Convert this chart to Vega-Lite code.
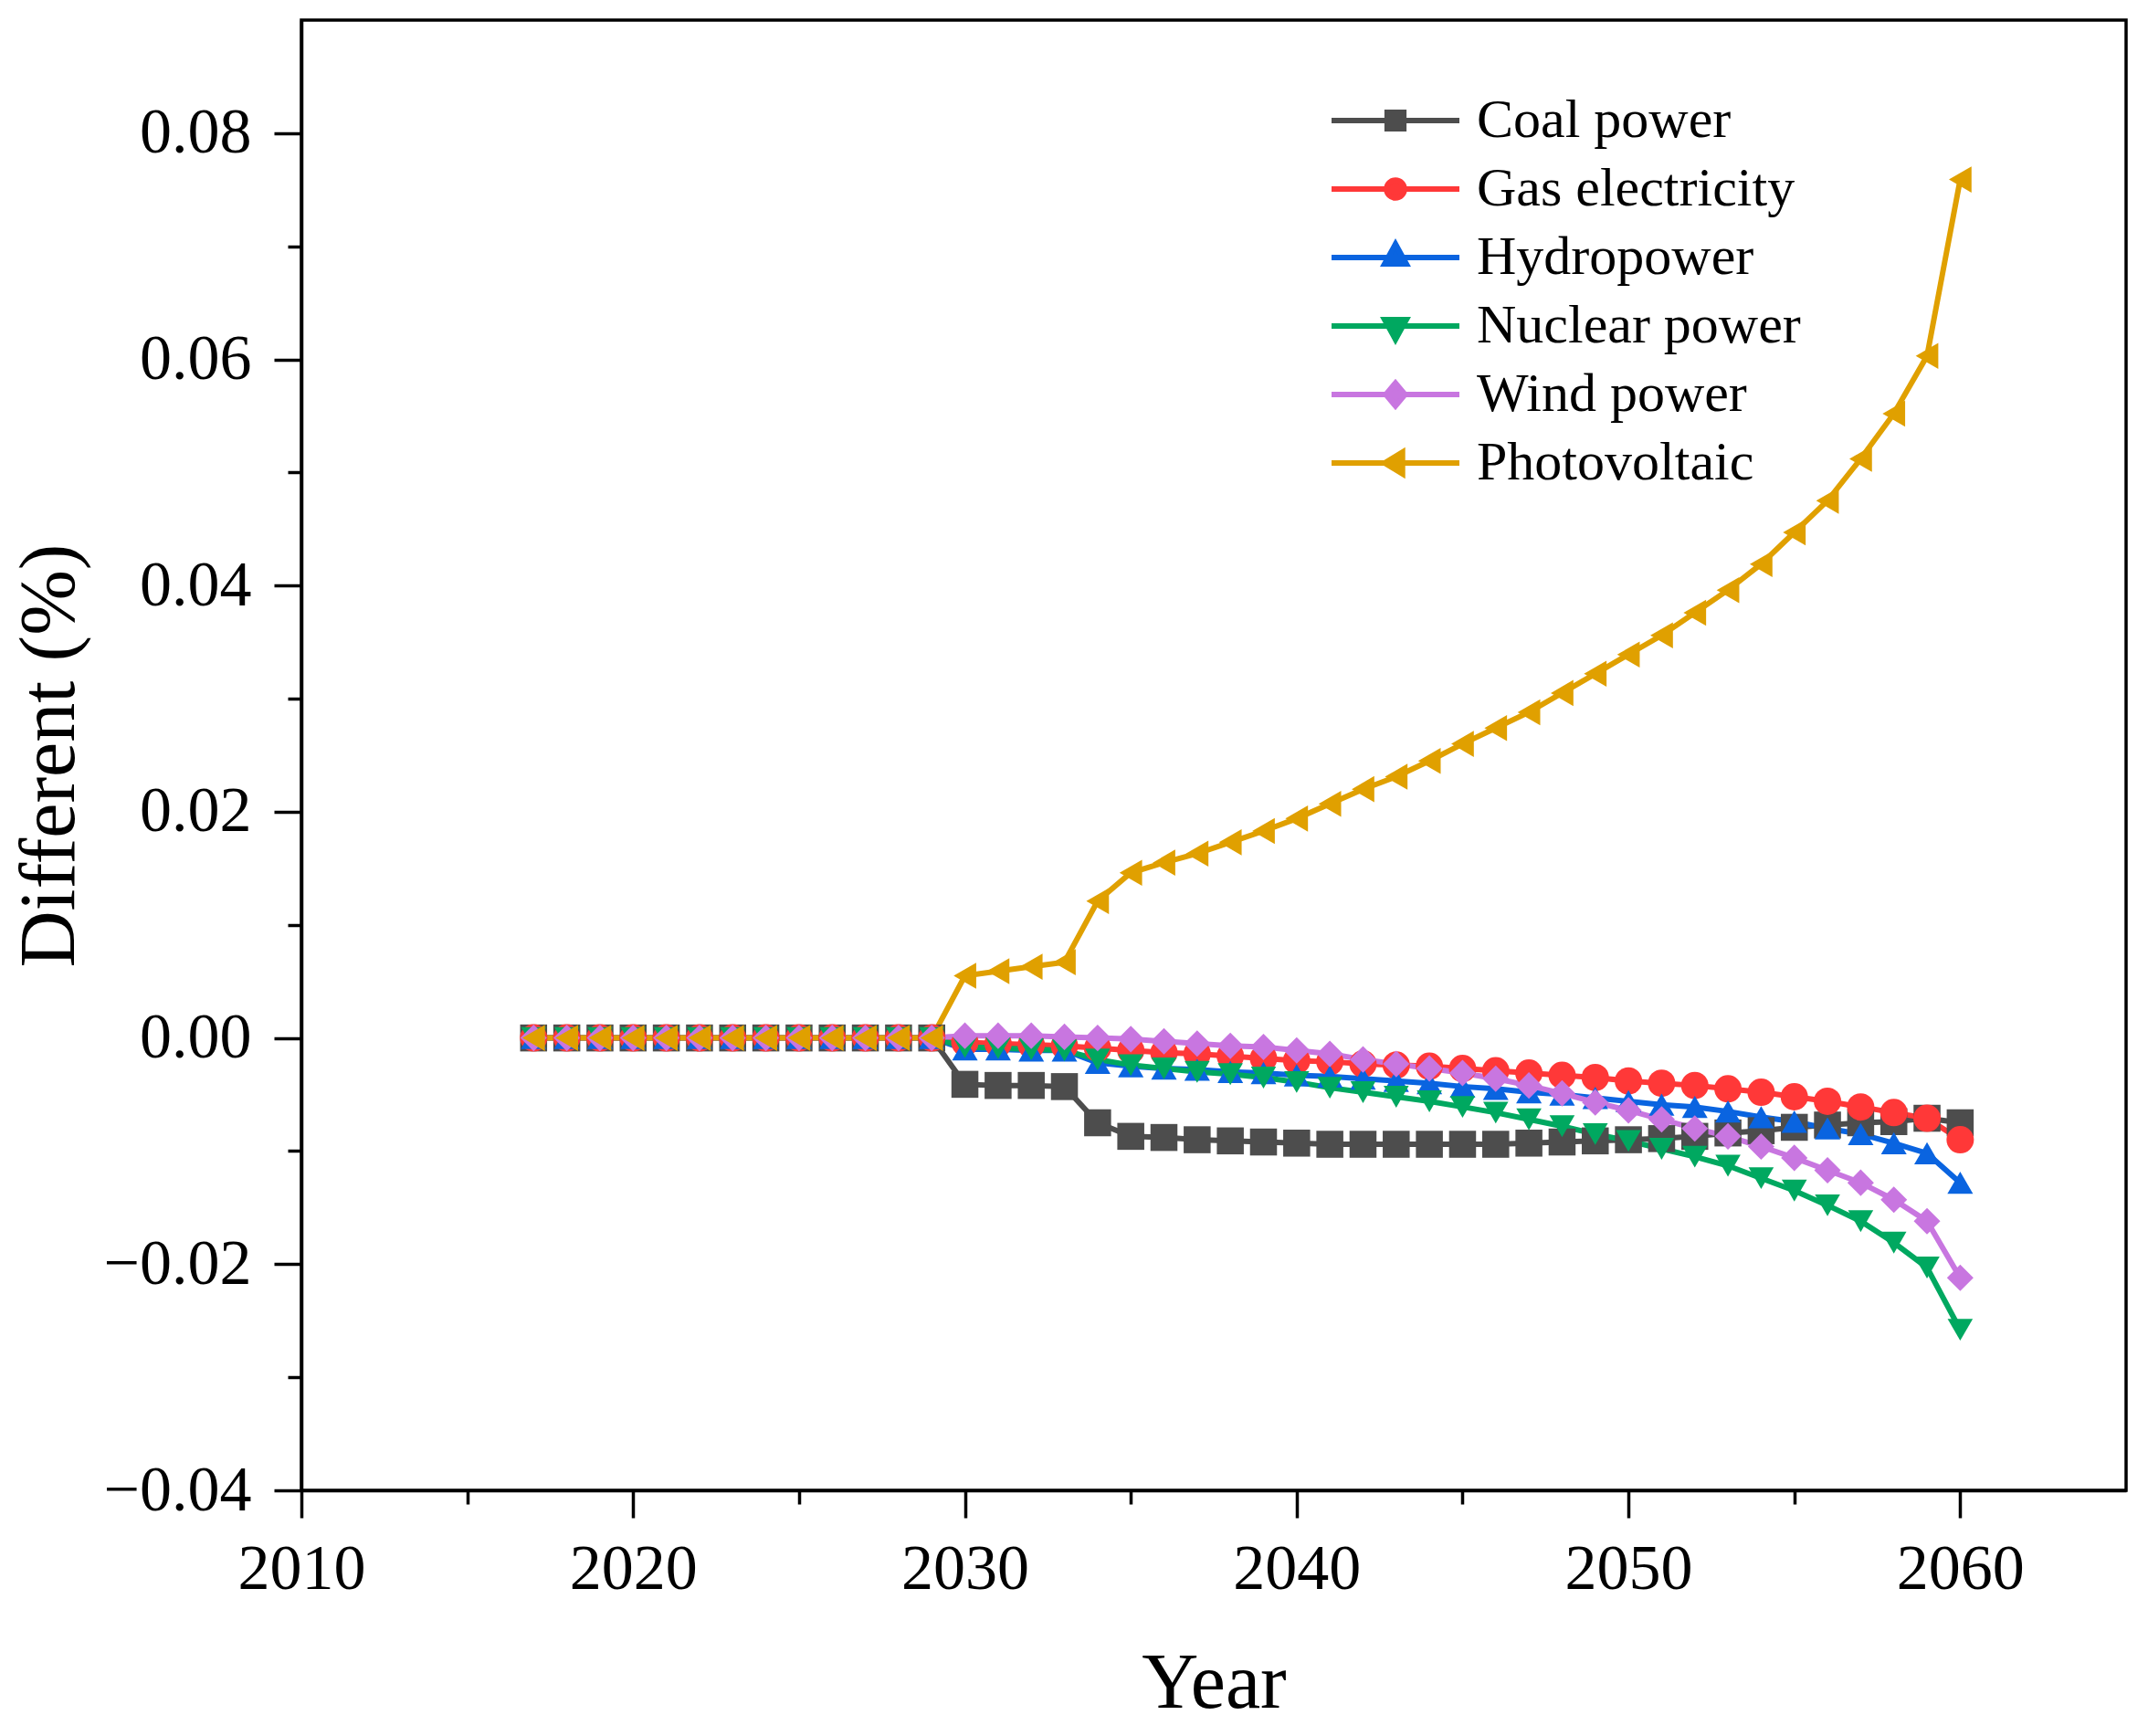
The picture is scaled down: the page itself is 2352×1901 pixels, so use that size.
{
  "$schema": "https://vega.github.io/schema/vega-lite/v6.json",
  "width": 1998,
  "height": 1610,
  "autosize": {"type": "none"},
  "padding": {"left": 330, "top": 22, "right": 24, "bottom": 269},
  "background": "white",
  "config": {
    "font": "Liberation Serif",
    "view": {"stroke": "black", "strokeWidth": 3.5},
    "axis": {
      "grid": false,
      "domainColor": "black",
      "domainWidth": 3.5,
      "tickColor": "black",
      "tickWidth": 3.5,
      "labelFont": "Liberation Serif",
      "labelFontSize": 70,
      "labelColor": "black",
      "titleFont": "Liberation Serif",
      "titleFontSize": 86,
      "titleFontWeight": "normal",
      "titleColor": "black"
    }
  },
  "data": {
    "values": [
      {"year": 2017, "Coal power": 0, "Gas electricity": 0, "Hydropower": 0, "Nuclear power": 0, "Wind power": 0, "Photovoltaic": 0},
      {"year": 2018, "Coal power": 0, "Gas electricity": 0, "Hydropower": 0, "Nuclear power": 0, "Wind power": 0, "Photovoltaic": 0},
      {"year": 2019, "Coal power": 0, "Gas electricity": 0, "Hydropower": 0, "Nuclear power": 0, "Wind power": 0, "Photovoltaic": 0},
      {"year": 2020, "Coal power": 0, "Gas electricity": 0, "Hydropower": 0, "Nuclear power": 0, "Wind power": 0, "Photovoltaic": 0},
      {"year": 2021, "Coal power": 0, "Gas electricity": 0, "Hydropower": 0, "Nuclear power": 0, "Wind power": 0, "Photovoltaic": 0},
      {"year": 2022, "Coal power": 0, "Gas electricity": 0, "Hydropower": 0, "Nuclear power": 0, "Wind power": 0, "Photovoltaic": 0},
      {"year": 2023, "Coal power": 0, "Gas electricity": 0, "Hydropower": 0, "Nuclear power": 0, "Wind power": 0, "Photovoltaic": 0},
      {"year": 2024, "Coal power": 0, "Gas electricity": 0, "Hydropower": 0, "Nuclear power": 0, "Wind power": 0, "Photovoltaic": 0},
      {"year": 2025, "Coal power": 0, "Gas electricity": 0, "Hydropower": 0, "Nuclear power": 0, "Wind power": 0, "Photovoltaic": 0},
      {"year": 2026, "Coal power": 0, "Gas electricity": 0, "Hydropower": 0, "Nuclear power": 0, "Wind power": 0, "Photovoltaic": 0},
      {"year": 2027, "Coal power": 0, "Gas electricity": 0, "Hydropower": 0, "Nuclear power": 0, "Wind power": 0, "Photovoltaic": 0},
      {"year": 2028, "Coal power": 0, "Gas electricity": 0, "Hydropower": 0, "Nuclear power": 0, "Wind power": 0, "Photovoltaic": 0},
      {"year": 2029, "Coal power": 0, "Gas electricity": 0, "Hydropower": 0, "Nuclear power": 0, "Wind power": 0, "Photovoltaic": 0},
      {"year": 2030, "Coal power": -0.0041, "Gas electricity": -0.0004, "Hydropower": -0.0010, "Nuclear power": -0.0008, "Wind power": 0.0002, "Photovoltaic": 0.0055},
      {"year": 2031, "Coal power": -0.0042, "Gas electricity": -0.0005, "Hydropower": -0.0010, "Nuclear power": -0.0009, "Wind power": 0.0002, "Photovoltaic": 0.0059},
      {"year": 2032, "Coal power": -0.0042, "Gas electricity": -0.0006, "Hydropower": -0.0011, "Nuclear power": -0.0010, "Wind power": 0.0002, "Photovoltaic": 0.0063},
      {"year": 2033, "Coal power": -0.0043, "Gas electricity": -0.0007, "Hydropower": -0.0011, "Nuclear power": -0.0011, "Wind power": 0.0001, "Photovoltaic": 0.0067},
      {"year": 2034, "Coal power": -0.0075, "Gas electricity": -0.0009, "Hydropower": -0.0022, "Nuclear power": -0.0019, "Wind power": 0.0000, "Photovoltaic": 0.0121},
      {"year": 2035, "Coal power": -0.0087, "Gas electricity": -0.0011, "Hydropower": -0.0025, "Nuclear power": -0.0024, "Wind power": -0.0001, "Photovoltaic": 0.0146},
      {"year": 2036, "Coal power": -0.0088, "Gas electricity": -0.0013, "Hydropower": -0.0027, "Nuclear power": -0.0027, "Wind power": -0.0003, "Photovoltaic": 0.0155},
      {"year": 2037, "Coal power": -0.0090, "Gas electricity": -0.0014, "Hydropower": -0.0028, "Nuclear power": -0.0030, "Wind power": -0.0005, "Photovoltaic": 0.0163},
      {"year": 2038, "Coal power": -0.0091, "Gas electricity": -0.0016, "Hydropower": -0.0030, "Nuclear power": -0.0032, "Wind power": -0.0007, "Photovoltaic": 0.0173},
      {"year": 2039, "Coal power": -0.0092, "Gas electricity": -0.0018, "Hydropower": -0.0031, "Nuclear power": -0.0035, "Wind power": -0.0008, "Photovoltaic": 0.0183},
      {"year": 2040, "Coal power": -0.0093, "Gas electricity": -0.0020, "Hydropower": -0.0033, "Nuclear power": -0.0039, "Wind power": -0.0011, "Photovoltaic": 0.0194},
      {"year": 2041, "Coal power": -0.0094, "Gas electricity": -0.0021, "Hydropower": -0.0034, "Nuclear power": -0.0044, "Wind power": -0.0014, "Photovoltaic": 0.0207},
      {"year": 2042, "Coal power": -0.0094, "Gas electricity": -0.0023, "Hydropower": -0.0036, "Nuclear power": -0.0048, "Wind power": -0.0019, "Photovoltaic": 0.0220},
      {"year": 2043, "Coal power": -0.0094, "Gas electricity": -0.0024, "Hydropower": -0.0038, "Nuclear power": -0.0052, "Wind power": -0.0023, "Photovoltaic": 0.0231},
      {"year": 2044, "Coal power": -0.0094, "Gas electricity": -0.0025, "Hydropower": -0.0040, "Nuclear power": -0.0056, "Wind power": -0.0027, "Photovoltaic": 0.0245},
      {"year": 2045, "Coal power": -0.0094, "Gas electricity": -0.0027, "Hydropower": -0.0043, "Nuclear power": -0.0061, "Wind power": -0.0031, "Photovoltaic": 0.0260},
      {"year": 2046, "Coal power": -0.0094, "Gas electricity": -0.0029, "Hydropower": -0.0045, "Nuclear power": -0.0066, "Wind power": -0.0036, "Photovoltaic": 0.0274},
      {"year": 2047, "Coal power": -0.0093, "Gas electricity": -0.0031, "Hydropower": -0.0048, "Nuclear power": -0.0072, "Wind power": -0.0042, "Photovoltaic": 0.0288},
      {"year": 2048, "Coal power": -0.0092, "Gas electricity": -0.0033, "Hydropower": -0.0050, "Nuclear power": -0.0078, "Wind power": -0.0049, "Photovoltaic": 0.0305},
      {"year": 2049, "Coal power": -0.0091, "Gas electricity": -0.0035, "Hydropower": -0.0053, "Nuclear power": -0.0085, "Wind power": -0.0057, "Photovoltaic": 0.0322},
      {"year": 2050, "Coal power": -0.0090, "Gas electricity": -0.0038, "Hydropower": -0.0056, "Nuclear power": -0.0091, "Wind power": -0.0064, "Photovoltaic": 0.0339},
      {"year": 2051, "Coal power": -0.0089, "Gas electricity": -0.0040, "Hydropower": -0.0059, "Nuclear power": -0.0098, "Wind power": -0.0072, "Photovoltaic": 0.0356},
      {"year": 2052, "Coal power": -0.0087, "Gas electricity": -0.0042, "Hydropower": -0.0061, "Nuclear power": -0.0105, "Wind power": -0.0080, "Photovoltaic": 0.0376},
      {"year": 2053, "Coal power": -0.0084, "Gas electricity": -0.0045, "Hydropower": -0.0065, "Nuclear power": -0.0113, "Wind power": -0.0087, "Photovoltaic": 0.0396},
      {"year": 2054, "Coal power": -0.0082, "Gas electricity": -0.0048, "Hydropower": -0.0070, "Nuclear power": -0.0124, "Wind power": -0.0096, "Photovoltaic": 0.0419},
      {"year": 2055, "Coal power": -0.0079, "Gas electricity": -0.0052, "Hydropower": -0.0074, "Nuclear power": -0.0135, "Wind power": -0.0106, "Photovoltaic": 0.0447},
      {"year": 2056, "Coal power": -0.0077, "Gas electricity": -0.0056, "Hydropower": -0.0080, "Nuclear power": -0.0148, "Wind power": -0.0117, "Photovoltaic": 0.0475},
      {"year": 2057, "Coal power": -0.0075, "Gas electricity": -0.0061, "Hydropower": -0.0085, "Nuclear power": -0.0162, "Wind power": -0.0128, "Photovoltaic": 0.0512},
      {"year": 2058, "Coal power": -0.0074, "Gas electricity": -0.0066, "Hydropower": -0.0093, "Nuclear power": -0.0181, "Wind power": -0.0143, "Photovoltaic": 0.0552},
      {"year": 2059, "Coal power": -0.0071, "Gas electricity": -0.0071, "Hydropower": -0.0102, "Nuclear power": -0.0203, "Wind power": -0.0162, "Photovoltaic": 0.0603},
      {"year": 2060, "Coal power": -0.0075, "Gas electricity": -0.0090, "Hydropower": -0.0128, "Nuclear power": -0.0258, "Wind power": -0.0212, "Photovoltaic": 0.0759}
    ]
  },
  "transform": [
    {"fold": ["Coal power", "Gas electricity", "Hydropower", "Nuclear power", "Wind power", "Photovoltaic"], "as": ["series", "value"]}
  ],
  "encoding": {
    "x": {
      "field": "year",
      "type": "quantitative",
      "scale": {"domain": [2010, 2065], "nice": false, "zero": false},
      "axis": {
        "title": "Year",
        "values": [2010, 2015, 2020, 2025, 2030, 2035, 2040, 2045, 2050, 2055, 2060],
        "format": "d",
        "labelExpr": "datum.value % 10 === 0 ? datum.label : ''",
        "labelFlush": false,
        "labelOverlap": false,
        "tickSize": 30,
        "labelPadding": 22,
        "titlePadding": 48,
        "encoding": {"ticks": {"y2": {"value": {"expr": "datum.value % 10 === 0 ? 30 : 15"}}}}
      }
    },
    "y": {
      "field": "value",
      "type": "quantitative",
      "scale": {"domain": [-0.04, 0.09], "nice": false, "zero": false},
      "axis": {
        "title": "Different (%)",
        "values": [-0.04, -0.03, -0.02, -0.01, 0, 0.01, 0.02, 0.03, 0.04, 0.05, 0.06, 0.07, 0.08],
        "labelExpr": "round(datum.value * 100) % 2 === 0 ? format(datum.value, '.2f') : ''",
        "labelOverlap": false,
        "tickSize": 30,
        "labelPadding": 25,
        "titlePadding": 32,
        "encoding": {"ticks": {"x2": {"value": {"expr": "round(datum.value * 100) % 2 === 0 ? -30 : -15"}}}}
      }
    }
  },
  "layer": [
    {
      "mark": {"type": "line", "strokeWidth": 6},
      "encoding": {
        "color": {
          "field": "series",
          "type": "nominal",
          "scale": {
            "domain": ["Coal power", "Gas electricity", "Hydropower", "Nuclear power", "Wind power", "Photovoltaic"],
            "range": ["#4d4d4d", "#ff3838", "#0a64e0", "#00a860", "#c876e0", "#e0a000"]
          },
          "legend": {
            "orient": "none",
            "legendX": 1125,
            "legendY": 80,
            "padding": 0,
            "title": null,
            "clipHeight": 60,
            "rowPadding": 15,
            "labelOffset": 16,
            "labelFont": "Liberation Serif",
            "labelFontSize": 60,
            "labelColor": "black",
            "labelLimit": 0,
            "symbolSize": 19600,
            "symbolStrokeWidth": 6,
            "encoding": {
              "symbols": {
                "size": {"value": 19600},
                "strokeWidth": {"value": 6},
                "stroke": {"value": {"expr": "scale('color', datum.value)"}},
                "fill": {"value": {"expr": "scale('color', datum.value)"}},
                "shape": {"value": {"expr": "datum.value === 'Coal power' ? 'M-1,0H1M-0.13,-0.13H0.13V0.13H-0.13Z' : datum.value === 'Gas electricity' ? 'M-1,0H1M0.14,0A0.14,0.14,0,1,1,-0.14,0A0.14,0.14,0,1,1,0.14,0Z' : datum.value === 'Hydropower' ? 'M-1,0H1M0,-0.21L0.17,0.1H-0.17Z' : datum.value === 'Nuclear power' ? 'M-1,0H1M0,0.21L0.17,-0.1H-0.17Z' : datum.value === 'Wind power' ? 'M-1,0H1M0,-0.18L0.15,0L0,0.18L-0.15,0Z' : 'M-1,0H1M-0.17,0L0.11,-0.17V0.17Z'"}}
              }
            }
          }
        }
      }
    },
    {
      "mark": {"type": "point", "filled": true, "opacity": 1},
      "encoding": {
        "color": {"field": "series", "type": "nominal", "legend": null},
        "shape": {
          "field": "series",
          "type": "nominal",
          "scale": {
            "domain": ["Photovoltaic", "Wind power", "Nuclear power", "Hydropower", "Gas electricity", "Coal power"],
            "range": ["triangle-left", "diamond", "triangle-down", "triangle-up", "circle", "square"]
          },
          "legend": null
        },
        "size": {
          "field": "series",
          "type": "nominal",
          "scale": {
            "domain": ["Gas electricity", "Coal power", "Wind power", "Photovoltaic", "Hydropower", "Nuclear power"],
            "range": [900, 760, 1100, 1200, 1200, 1200]
          },
          "legend": null
        }
      }
    }
  ]
}
